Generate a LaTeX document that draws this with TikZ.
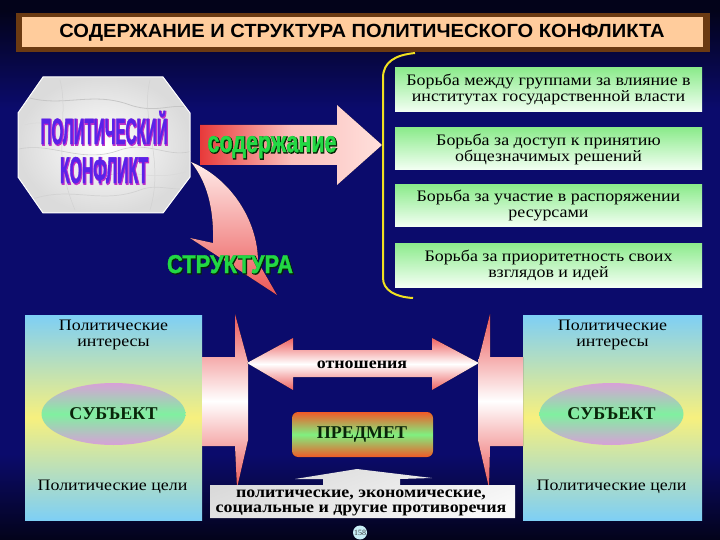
\documentclass[tikz,border=0pt]{standalone}
\usepackage{fontspec}
\setmainfont{Liberation Serif}
\newfontfamily\widefont[FakeStretch=1.12]{Liberation Serif}
\newfontfamily\titlefont{Liberation Sans}
\newfontfamily\wordartfill[FakeBold=1.5]{Liberation Sans}
\newfontfamily\wordartheavy[FakeBold=5]{Liberation Sans}
\usetikzlibrary{shapes.geometric}
\definecolor{bgdark}{HTML}{03031A}
\definecolor{bgmid}{HTML}{0B0B6C}
\definecolor{barbrown}{HTML}{6B3A12}
\definecolor{peach}{HTML}{FFCC9C}
\definecolor{boxgreen}{HTML}{8CEB8C}
\definecolor{boxwhite}{HTML}{F4FFF4}
\definecolor{panblue}{HTML}{7ECFF5}
\definecolor{panyellow}{HTML}{F7F07E}
\definecolor{ellpink}{HTML}{D8A0D8}
\definecolor{ellgreen}{HTML}{80F0A0}
\definecolor{arrred}{HTML}{E83A3A}
\definecolor{arrpink}{HTML}{FFE0DC}
\definecolor{waviolet}{HTML}{5A22E8}
\definecolor{wamagenta}{HTML}{C030C8}
\definecolor{wagreen}{HTML}{22D844}
\definecolor{wadark}{HTML}{062806}
\definecolor{txtdark}{HTML}{0A250A}
\definecolor{bracketyellow}{HTML}{F0E020}
\definecolor{predred}{HTML}{F05A28}
\definecolor{predgreen}{HTML}{80F080}
\definecolor{pagecirc}{HTML}{C8EEF6}
\pgfdeclareverticalshading{bgshade}{100bp}{color(0bp)=(bgdark); color(25bp)=(bgdark); color(33bp)=(bgmid); color(65bp)=(bgmid); color(74bp)=(bgdark); color(100bp)=(bgdark)}
% word-art text: heavy outline copy (slightly offset as a shadow) under the fill copy
\newcommand\watext[5]{\leavevmode
\rlap{\kern0.9pt\raisebox{-0.9pt}{\color{#2}\resizebox{#3}{#4}{\wordartheavy\bfseries #5}}}%
{\color{#1}\resizebox{#3}{#4}{\wordartfill\bfseries #5}}}
\begin{document}
\begin{tikzpicture}[x=1pt,y=-1pt,
  every node/.style={inner sep=0pt,outer sep=0pt},
  greenbox/.style={top color=boxgreen,bottom color=boxwhite},
  boxtext/.style={align=center,font=\widefont\fontsize{16}{16}\selectfont,text=black},
  pantext/.style={align=center,font=\widefont\fontsize{16}{15.5}\selectfont,text=black},
  panel/.style={top color=panblue,bottom color=panblue,middle color=panyellow},
  subj/.style={ellipse,minimum width=144pt,minimum height=62pt,top color=ellpink,bottom color=ellpink,middle color=ellgreen},
  boldtext/.style={font=\fontsize{18}{18}\selectfont\bfseries,text=txtdark},
  spike/.style={top color=arrred!85,bottom color=arrred!85,middle color=white}]
\useasboundingbox (0,0) rectangle (720,540);
% background
\fill[shading=bgshade] (0,0) rectangle (720,540);
% title
\fill[barbrown] (16,13) rectangle (710,52);
\fill[peach] (22,17) rectangle (703,47);
\node[anchor=base] (title) at (362,37.3) {\resizebox{605pt}{13.3pt}{\titlefont\bfseries СОДЕРЖАНИЕ И СТРУКТУРА ПОЛИТИЧЕСКОГО КОНФЛИКТА}};
% octagon (marble)
\begin{scope}
\clip (43,77) -- (163,77) -- (190,113) -- (190,177) -- (163,213) -- (43,213) -- (18,177) -- (18,113) -- cycle;
\shade[inner color=white,outer color=gray!28] (18,77) rectangle (190,213);
\draw[gray!45,line width=0.8pt] (20,95) .. controls (60,110) and (90,90) .. (130,105) .. controls (160,115) and (175,100) .. (195,110);
\draw[gray!40,line width=0.6pt] (15,150) .. controls (50,140) and (80,165) .. (120,150) .. controls (150,140) and (170,160) .. (195,150);
\draw[gray!35,line width=0.7pt] (30,200) .. controls (70,185) and (100,205) .. (140,190) .. controls (160,182) and (180,195) .. (195,185);
\draw[gray!35,line width=0.5pt] (60,80) .. controls (70,120) and (50,150) .. (75,210);
\draw[gray!35,line width=0.5pt] (150,80) .. controls (140,120) and (165,160) .. (150,210);
\draw[gray!30,line width=0.5pt] (25,125) .. controls (45,118) and (60,132) .. (85,122);
\draw[gray!30,line width=0.5pt] (110,175) .. controls (130,168) and (150,182) .. (185,172);
\end{scope}
\draw[white,line width=1pt] (43,77) -- (163,77) -- (190,113) -- (190,177) -- (163,213) -- (43,213) -- (18,177) -- (18,113) -- cycle;
\node[anchor=base] (konf1) at (104,144) {\watext{waviolet}{wamagenta}{127pt}{33pt}{ПОЛИТИЧЕСКИЙ}};
\node[anchor=base] (konf2) at (104,183) {\watext{waviolet}{wamagenta}{88pt}{26pt}{КОНФЛИКТ}};
% content arrow
\fill[left color=arrred,right color=arrpink,middle color=arrpink!80!arrred] (200,125) -- (337,125) -- (337,105) -- (382,145) -- (337,185) -- (337,165) -- (200,165) -- cycle;
\node[anchor=base] (soder) at (272,152) {\watext{wagreen}{wadark}{129pt}{16pt}{содержание}};
% curved structure arrow
\fill[top color=arrpink!60!white,bottom color=arrred!85] (191,162) .. controls (230,178) and (258,220) .. (258,262) -- (277,295) -- (190,238) -- (213,243) .. controls (214,208) and (207,182) .. (191,162) -- cycle;
\node[anchor=base] (strukt) at (230,273) {\watext{wagreen}{wadark}{126pt}{18pt}{СТРУКТУРА}};
% bracket
\draw[bracketyellow,line width=2pt] (415,53) .. controls (395,55) and (383,62) .. (383,78) -- (383,278) .. controls (383,290) and (395,297) .. (413,298);
% green boxes
\fill[greenbox] (395,68) rectangle (702,112);
\node[boxtext] (b1) at (548.5,90) {Борьба между группами за влияние в\\институтах государственной власти};
\fill[greenbox] (395,128) rectangle (702,170);
\node[boxtext] (b2) at (548.5,149) {Борьба за доступ к принятию\\общезначимых решений};
\fill[greenbox] (395,185) rectangle (702,227);
\node[boxtext] (b3) at (548.5,206) {Борьба за участие в распоряжении\\ресурсами};
\fill[greenbox] (395,243) rectangle (702,287);
\node[boxtext] (b4) at (548.5,265) {Борьба за приоритетность своих\\взглядов и идей};
% panels
\fill[panel] (25,315) rectangle (202,520);
\fill[panel] (523,315) rectangle (702,520);
\node[pantext] (lint) at (113.5,335) {Политические\\интересы};
\node[pantext] (lgoal) at (112.5,487) {Политические цели};
\node[pantext] (rint) at (612.5,335) {Политические\\интересы};
\node[pantext] (rgoal) at (611.5,487) {Политические цели};
\node[subj,boldtext] (lsubj) at (113.5,414) {СУБЪЕКТ};
\node[subj,boldtext] (rsubj) at (611.5,414) {СУБЪЕКТ};
% spikes
\fill[spike] (202,357) -- (235,357) -- (235,314) -- (248,362) -- (248,440) -- (237,488) -- (235,446) -- (202,446) -- cycle;
\fill[spike] (523,357) -- (490,357) -- (490,314) -- (478,362) -- (478,440) -- (489,488) -- (490,446) -- (523,446) -- cycle;
% double arrow
\fill[top color=arrred!80,bottom color=arrred!80,middle color=white] (247,363) -- (293,338) -- (293,350) -- (432,350) -- (432,338) -- (479,363) -- (432,390) -- (432,377) -- (293,377) -- (293,390) -- cycle;
\node[font=\widefont\fontsize{16}{16}\selectfont\bfseries,text=black] (rel) at (362,365) {отношения};
% predmet
\fill[rounded corners=6pt,top color=predred,bottom color=predred,middle color=predgreen] (292,412) rectangle (433,457);
\node[boldtext] (pred) at (362,435) {ПРЕДМЕТ};
% marble bottom
\shade[top color=gray!30,bottom color=white!95!gray,shading angle=20] (210,485) -- (323,485) -- (323,479) -- (295,479) -- (357,469) -- (432,478) -- (400,479) -- (400,485) -- (515,485) -- (515,518) -- (210,518) -- cycle;
\node[align=center,font=\widefont\fontsize{16}{14.5}\selectfont\bfseries,text=black] (contr) at (361,503) {политические, экономические,\\социальные и другие противоречия};
% page number
\node[circle,fill=pagecirc,minimum size=14pt,font=\fontsize{8}{8}\selectfont,text=black!80] (page) at (360,532.5) {158};
\end{tikzpicture}
\end{document}
